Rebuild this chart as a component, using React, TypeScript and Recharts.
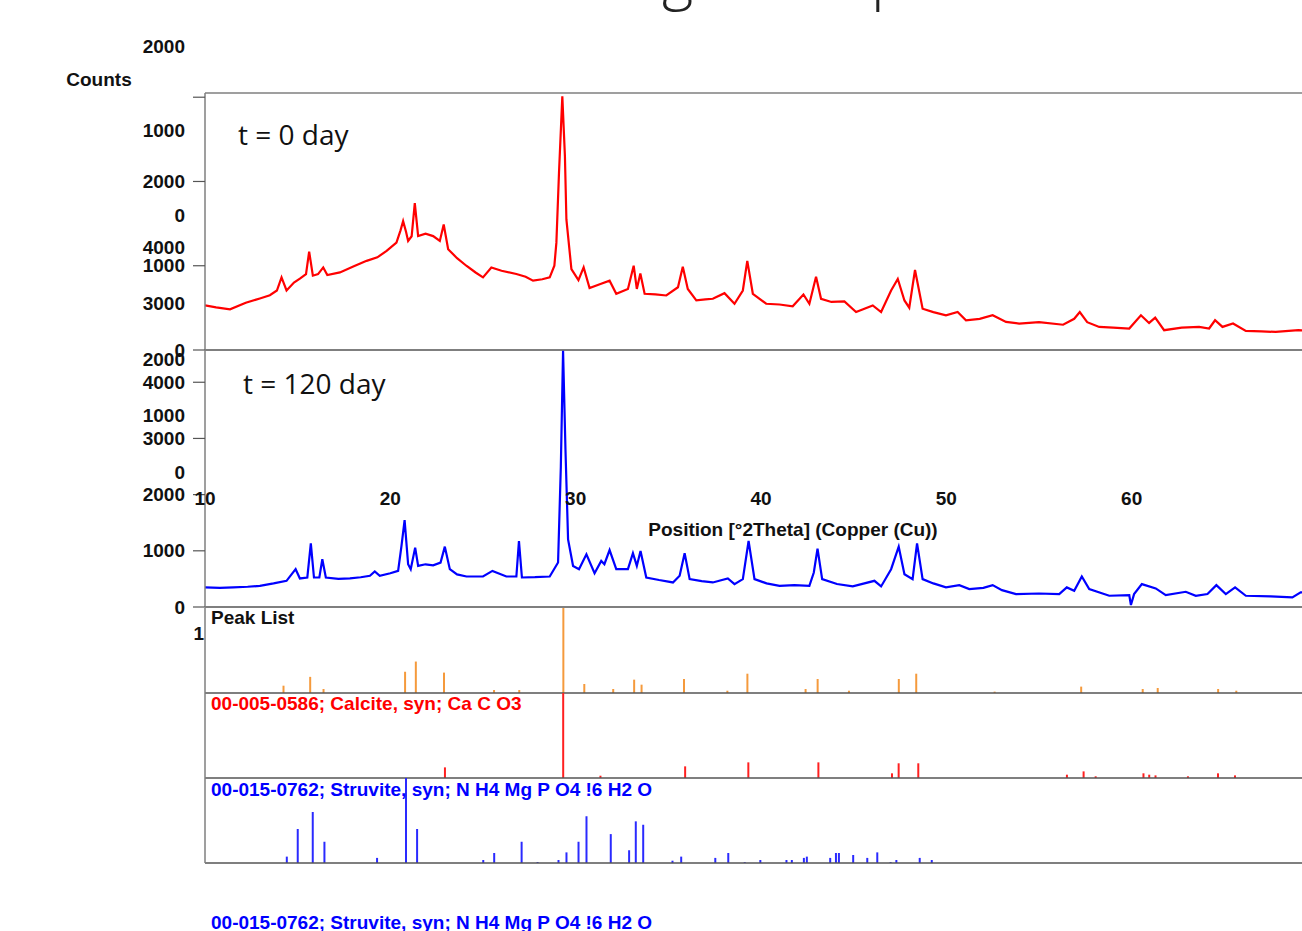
import React from 'react';
import { LineChart, Line, BarChart, Bar, XAxis, YAxis, ReferenceLine } from 'recharts';

// t = 0 day pattern (red)
const RED_2THETA = [
  10.0, 10.6, 11.35, 12.2, 12.96, 13.5, 13.88, 14.13, 14.4, 14.8, 15.12, 15.45, 15.62, 15.82, 16.1, 16.38, 16.6,
  17.28, 18.0, 18.72, 19.3, 19.8, 20.33, 20.55, 20.69, 20.85, 20.96, 21.15, 21.32, 21.5, 21.9, 22.31, 22.67, 22.88,
  23.12, 23.6, 24.1, 24.6, 25.0, 25.45, 26.0, 26.8, 27.3, 27.7, 28.2, 28.6, 28.85, 28.96, 29.1, 29.28, 29.42, 29.5,
  29.77, 30.15, 30.43, 30.75, 31.3, 31.83, 32.19, 32.82, 33.13, 33.3, 33.49, 33.72, 34.3, 34.89, 35.52, 35.78, 36.05,
  36.51, 37.0, 37.4, 38.03, 38.57, 39.02, 39.26, 39.56, 40.28, 41.0, 41.71, 42.29, 42.61, 42.97, 43.24, 43.8, 44.5,
  45.13, 46.03, 46.48, 47.02, 47.38, 47.74, 48.0, 48.31, 48.72, 49.3, 49.98, 50.61, 51.06, 51.8, 52.5, 53.22, 53.93,
  55.0, 56.3, 56.9, 57.2, 57.6, 58.25, 59.0, 59.87, 60.5, 60.94, 61.27, 61.75, 62.7, 63.64, 64.18, 64.5, 64.9, 65.47,
  66.16, 67.0, 67.77, 69.0, 70.0,
];
const RED_COUNTS = [
  529, 505, 482, 560, 612, 650, 706, 862, 706, 800, 847, 900, 1168, 882, 900, 980, 890,
  921, 990, 1058, 1100, 1176, 1274, 1420, 1529, 1400, 1294, 1350, 1744, 1352, 1380, 1352, 1294, 1490,
  1196, 1090, 1000, 920, 862, 980, 940, 902, 870, 823, 840, 862, 1000, 1274, 2100, 3010, 2300, 1549,
  961, 830, 980, 735, 780, 823, 667, 725, 1000, 725, 909, 667, 660, 647, 745, 988, 725,
  588, 600, 608, 674, 549, 706, 1058, 667, 549, 540, 518, 659, 549, 870, 608, 570, 576,
  451, 529, 451, 706, 843, 588, 502, 949, 490, 450, 412, 451, 353, 370, 412, 333, 314,
  330, 300, 370, 450, 330, 274, 265, 255, 412, 321, 384, 235, 265, 274, 255, 353, 274, 314,
  227, 220, 215, 235, 230,
];

// t = 120 day pattern (blue)
const BLUE_2THETA = [
  10.0, 10.8, 11.53, 12.3, 12.96, 13.7, 14.4, 14.89, 15.12, 15.52, 15.71, 15.88, 16.17, 16.33, 16.52, 17.2, 17.82,
  18.4, 18.9, 19.16, 19.43, 20.0, 20.42, 20.6, 20.77, 20.96, 21.1, 21.34, 21.5, 21.9, 22.31, 22.71, 22.94, 23.21,
  23.6, 24.11, 25.0, 25.51, 26.26, 26.8, 26.94, 27.1, 27.8, 28.6, 29.05, 29.2, 29.32, 29.45, 29.59, 29.86, 30.18,
  30.58, 31.02, 31.38, 31.55, 31.83, 32.19, 32.82, 33.09, 33.3, 33.5, 33.81, 34.5, 35.25, 35.61, 35.88, 36.15, 36.8,
  37.4, 38.21, 38.57, 39.02, 39.33, 39.65, 40.3, 41.0, 41.8, 42.61, 42.85, 43.05, 43.3, 44.1, 44.95, 46.12, 46.48,
  47.02, 47.43, 47.74, 48.18, 48.42, 48.72, 49.3, 49.98, 50.7, 51.24, 52.0, 52.5, 53.0, 53.76, 55.0, 56.09, 56.5,
  56.9, 57.31, 57.71, 58.79, 59.87, 59.96, 60.13, 60.55, 61.3, 61.84, 62.92, 63.46, 64.09, 64.57, 65.08, 65.58,
  66.16, 67.5, 68.67, 69.12, 70.0,
];
const BLUE_COUNTS = [
  349, 340, 349, 360, 377, 420, 466, 673, 508, 525, 1133, 525, 525, 850, 525, 500, 508,
  530, 555, 632, 555, 600, 643, 1085, 1545, 761, 673, 1057, 731, 760, 743, 791, 1074, 673,
  580, 543, 543, 643, 543, 543, 1174, 525, 530, 543, 791, 2500, 4560, 2800, 1204, 731, 673,
  938, 600, 820, 761, 1014, 673, 673, 956, 731, 997, 525, 480, 437, 555, 956, 496, 460,
  437, 508, 407, 496, 1174, 496, 420, 377, 390, 377, 614, 1039, 496, 410, 366, 466, 366,
  673, 1074, 584, 496, 1133, 496, 420, 349, 389, 319, 340, 389, 300, 230, 240, 230, 349,
  289, 543, 319, 200, 212, 35, 230, 407, 331, 212, 271, 200, 230, 389, 230, 349,
  200, 190, 172, 260, 260,
];

// reference sticks (relative intensity)
const PEAK_POS = [14.22, 15.66, 16.38, 20.78, 21.36, 22.88, 25.58, 26.94, 29.32, 30.45, 32.01, 33.14, 33.54, 35.83, 38.17, 39.25, 42.39, 43.04, 44.73, 47.42, 48.36, 52.59, 57.26, 60.58, 61.39, 64.65, 65.63];
const PEAK_INT = [0.086, 0.19, 0.047, 0.25, 0.37, 0.24, 0.035, 0.035, 1.0, 0.106, 0.047, 0.157, 0.098, 0.165, 0.027, 0.227, 0.047, 0.165, 0.027, 0.165, 0.227, 0.016, 0.075, 0.047, 0.059, 0.047, 0.027];

const CALCITE_POS = [22.94, 29.32, 31.33, 35.9, 39.31, 43.09, 47.06, 47.42, 48.48, 56.5, 57.4, 58.05, 60.63, 60.94, 61.28, 63.03, 64.65, 65.57];
const CALCITE_INT = [0.125, 1.0, 0.027, 0.137, 0.184, 0.184, 0.055, 0.173, 0.173, 0.039, 0.078, 0.02, 0.055, 0.039, 0.031, 0.02, 0.055, 0.031];

const STRUVITE_POS = [14.44, 15.03, 15.84, 16.47, 19.31, 20.87, 21.47, 25.04, 25.63, 27.11, 27.97, 29.1, 29.53, 30.18, 30.61, 31.92, 32.91, 33.27, 33.67, 35.25, 35.72, 37.56, 38.26, 39.15, 39.99, 41.4, 41.69, 42.34, 42.5, 43.76, 44.07, 44.23, 45.0, 45.76, 46.3, 47.02, 47.33, 48.59, 49.24];
const STRUVITE_INT = [0.075, 0.4, 0.6, 0.25, 0.06, 1.0, 0.4, 0.035, 0.118, 0.25, 0.012, 0.035, 0.125, 0.25, 0.55, 0.34, 0.15, 0.49, 0.45, 0.027, 0.075, 0.06, 0.118, 0.01, 0.035, 0.035, 0.035, 0.06, 0.075, 0.06, 0.118, 0.118, 0.094, 0.06, 0.125, 0.012, 0.035, 0.06, 0.035];

const X_TICKS = [10, 20, 30, 40, 50, 60];
const RED_TICKS = [0, 1000, 2000, 3000];
const BLUE_TICKS = [0, 1000, 2000, 3000, 4000];
const RED_MAX = 3050;
const BLUE_MAX = 4574;

const W = 1340;
const MARGIN = { top: 10, right: 23, bottom: 10, left: 145 };
const GRAY = '#7f7f7f';
const DARK = '#555555';
const BOLD = '"Liberation Sans", Arial, sans-serif';

const rows = (xs: number[], ys: number[]) => xs.map((x, i) => ({ x, y: ys[i] }));

function YTick(props: any) {
  const { x, y, payload, skip } = props;
  if (skip && skip.includes(payload.value)) return <g />;
  return (
    <text x={x} y={y} textAnchor="end" dominantBaseline="central" fontFamily={BOLD} fontWeight={700} fontSize={19} fill="#111">
      {payload.value}
    </text>
  );
}

function XTick(props: any) {
  const { x, y, payload } = props;
  return (
    <text x={x} y={y} textAnchor="middle" dominantBaseline="central" fontFamily={BOLD} fontWeight={700} fontSize={19} fill="#111">
      {payload.value}
    </text>
  );
}

function Pattern({ top, data, max, ticks, color, skip, ghost }: any) {
  return (
    <div style={{ position: 'absolute', left: 0, top }}>
      <LineChart width={W} height={277} data={data} margin={MARGIN}>
        <XAxis type="number" dataKey="x" domain={[10, 70]} hide allowDataOverflow />
        <YAxis
          type="number"
          domain={[0, max]}
          ticks={ticks}
          width={60}
          tickSize={12}
          tickMargin={8}
          allowDataOverflow
          axisLine={ghost ? false : { stroke: GRAY, strokeWidth: 1.5 }}
          tickLine={ghost ? false : { stroke: DARK, strokeWidth: 1.2 }}
          tick={<YTick skip={skip} />}
        />
        {!ghost && <ReferenceLine y={max} stroke={GRAY} strokeWidth={1.5} />}
        {!ghost && <ReferenceLine y={0} stroke={DARK} strokeWidth={1.5} />}
        {!ghost && (
          <Line type="linear" dataKey="y" stroke={color} strokeWidth={2.2} dot={false} isAnimationActive={false} />
        )}
      </LineChart>
    </div>
  );
}

function Sticks({ top, pos, ints, color }: any) {
  const data = pos.map((x: number, i: number) => ({ x, h: ints[i] }));
  return (
    <div style={{ position: 'absolute', left: 0, top }}>
      <BarChart width={W} height={105} data={data} margin={MARGIN}>
        <XAxis type="number" dataKey="x" domain={[10, 70]} hide allowDataOverflow />
        <YAxis type="number" domain={[0, 1]} width={60} tick={false} tickLine={false} axisLine={{ stroke: GRAY, strokeWidth: 1.5 }} />
        <ReferenceLine y={0} stroke={DARK} strokeWidth={1.5} />
        <Bar dataKey="h" fill={color} barSize={2} isAnimationActive={false} />
      </BarChart>
    </div>
  );
}

export default function App() {
  const red = rows(RED_2THETA, RED_COUNTS);
  const blue = rows(BLUE_2THETA, BLUE_COUNTS);
  const label = { fontFamily: BOLD, fontWeight: 700, fontSize: 19 } as const;
  return (
    <div style={{ position: 'absolute', left: 0, top: 0, width: 1302, height: 931, overflow: 'hidden', background: '#fff' }}>
      {/* shifted copies of the count axes */}
      <Pattern top={83 - 135} data={red} max={RED_MAX} ticks={RED_TICKS} skip={[3000]} ghost />
      <Pattern top={340 - 135} data={blue} max={BLUE_MAX} ticks={BLUE_TICKS} ghost />

      <Pattern top={83} data={red} max={RED_MAX} ticks={RED_TICKS} color="#ff0000" skip={[3000]} />
      <Pattern top={340} data={blue} max={BLUE_MAX} ticks={BLUE_TICKS} color="#0000ff" />

      {/* position axis drawn over the lower pattern */}
      <div style={{ position: 'absolute', left: 0, top: 478 }}>
        <LineChart width={W} height={60} data={red} margin={{ top: 0, right: 23, bottom: 0, left: 205 }}>
          <XAxis
            type="number"
            dataKey="x"
            domain={[10, 70]}
            ticks={X_TICKS}
            height={40}
            tickSize={0}
            tickMargin={0}
            axisLine={false}
            tickLine={false}
            tick={<XTick />}
          />
        </LineChart>
      </div>

      <Sticks top={598} pos={PEAK_POS} ints={PEAK_INT} color="#f59a3c" />
      <Sticks top={683} pos={CALCITE_POS} ints={CALCITE_INT} color="#ff2020" />
      <Sticks top={768} pos={STRUVITE_POS} ints={STRUVITE_INT} color="#2a2aff" />

      <svg width={1302} height={931} style={{ position: 'absolute', left: 0, top: 0, pointerEvents: 'none' }}>
        <text x={662} y={-2} fontFamily='"Open Sans", sans-serif' fontWeight={300} fontSize={60} fill="#222">g</text>
        <text x={871} y={-2} fontFamily='"Open Sans", sans-serif' fontWeight={300} fontSize={60} fill="#222">p</text>
        <text x={99} y={79} textAnchor="middle" dominantBaseline="central" {...label} fill="#111">Counts</text>
        <text x={204} y={633} textAnchor="end" dominantBaseline="central" {...label} fill="#111">1</text>
        <text x={238} y={145} fontFamily='"Open Sans", sans-serif' fontSize={28} fill="#111">t = 0 day</text>
        <text x={243} y={394} fontFamily='"Open Sans", sans-serif' fontSize={28} fill="#111">t = 120 day</text>
        <text x={793} y={529} textAnchor="middle" dominantBaseline="central" {...label} fill="#111">Position [°2Theta] (Copper (Cu))</text>
        <text x={211} y={617} dominantBaseline="central" {...label} fill="#111">Peak List</text>
        <text x={211} y={703} dominantBaseline="central" {...label} fill="#ff0000">00-005-0586; Calcite, syn; Ca C O3</text>
        <text x={211} y={789} dominantBaseline="central" {...label} fill="#0000ff">00-015-0762; Struvite, syn; N H4 Mg P O4 !6 H2 O</text>
        <text x={211} y={922} dominantBaseline="central" {...label} fill="#0000ff">00-015-0762; Struvite, syn; N H4 Mg P O4 !6 H2 O</text>
      </svg>
    </div>
  );
}
